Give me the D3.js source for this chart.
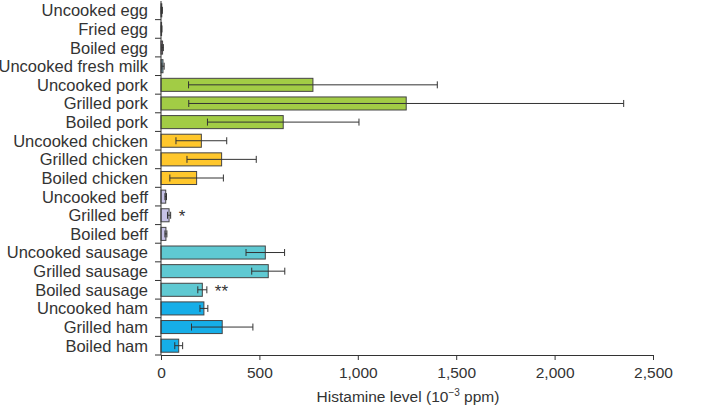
<!DOCTYPE html>
<html><head><meta charset="utf-8">
<script src="https://cdn.jsdelivr.net/npm/d3@7/dist/d3.min.js"></script>
<style>body{margin:0;background:#fff}svg{display:block}text{font-family:"Liberation Sans",Arial,sans-serif;fill:#333}</style>
</head><body><svg id="c" width="717" height="408"></svg>
<script>
const categories = ["Uncooked egg","Fried egg","Boiled egg","Uncooked fresh milk","Uncooked pork","Grilled pork","Boiled pork","Uncooked chicken","Grilled chicken","Boiled chicken","Uncooked beff","Grilled beff","Boiled beff","Uncooked sausage","Grilled sausage","Boiled sausage","Uncooked ham","Grilled ham","Boiled ham"];
const values = [4,3,8,10,772,1246,621,205,308,181,24,41,25,530,545,210,218,311,90];
const errors = [3,2,4,6,632,1105,385,129,176,136,4,8,5,98,84,23,20,156,20];
const groups = ["egg","egg","egg","milk","pork","pork","pork","chicken","chicken","chicken","beef","beef","beef","sausage","sausage","sausage","ham","ham","ham"];
const groupColors = {egg:"#c8a3bd",milk:"#7fb3c4",pork:"#a2cc45",chicken:"#ffc72c",beef:"#c6c2e6",sausage:"#5fc9d2",ham:"#16aee8"};
const marks = {"Grilled beff":"*","Boiled sausage":"**"};
const xTicks = [0,500,1000,1500,2000,2500];

const svg = d3.select("#c");
const x = d3.scaleLinear().domain([0,2500]).range([161,653]);
const y = d3.scaleBand().domain(categories).range([1,355]).paddingInner(0.3).paddingOuter(0.15);
const step = y.step();
const col = "#333";

// bars
svg.append("g").selectAll("rect").data(categories).join("rect")
  .attr("x", x(0)).attr("y", d=>y(d)).attr("height", y.bandwidth())
  .attr("width", (d,i)=>x(values[i])-x(0))
  .attr("fill",(d,i)=>groupColors[groups[i]]).attr("stroke","#444").attr("stroke-width",1);

// error bars
const eg = svg.append("g").attr("stroke",col).attr("stroke-width",1);
categories.forEach((c,i)=>{
  const cy = y(c)+y.bandwidth()/2;
  const lo = Math.max(0, values[i]-errors[i]), hi = values[i]+errors[i];
  eg.append("line").attr("x1",x(lo)).attr("x2",x(hi)).attr("y1",cy).attr("y2",cy);
  [lo,hi].forEach(v=>eg.append("line").attr("x1",x(v)).attr("x2",x(v)).attr("y1",cy-3.5).attr("y2",cy+3.5));
});

// significance marks
categories.forEach((c,i)=>{
  if(marks[c]){
    svg.append("text").attr("x", x(values[i]+errors[i])+8).attr("y", y(c)+y.bandwidth()/2+7)
      .attr("font-size",17).text(marks[c]);
  }
});

// y axis
const yg = svg.append("g");
yg.append("line").attr("x1",161).attr("x2",161).attr("y1",1).attr("y2",355).attr("stroke",col);
categories.forEach((c,i)=>{
  const b = y(c)-y.paddingInner()*step/2 + step;
  yg.append("line").attr("x1",155).attr("x2",161).attr("y1",b).attr("y2",b).attr("stroke",col);
  yg.append("text").attr("x",148).attr("y",y(c)+y.bandwidth()/2).attr("dy","0.36em")
    .attr("text-anchor","end").attr("font-size",16.5).text(c);
});

// x axis
const xAxis = d3.axisBottom(x).tickValues(xTicks).tickSize(5).tickSizeOuter(0).tickPadding(7)
  .tickFormat(d3.format(","));
const xg = svg.append("g").attr("transform","translate(0,355)").call(xAxis);
xg.select(".domain").attr("stroke",col);
xg.selectAll(".tick line").attr("stroke",col);
xg.selectAll(".tick text").attr("font-size",15.5).attr("fill",col).style("font-family","Liberation Sans, Arial, sans-serif");

const t = svg.append("text").attr("x",408).attr("y",402).attr("text-anchor","middle").attr("font-size",15.5);
t.append("tspan").text("Histamine level (10");
t.append("tspan").attr("dy",-6).attr("font-size",10).text("−3");
t.append("tspan").attr("dy",6).text(" ppm)");
</script></body></html>
